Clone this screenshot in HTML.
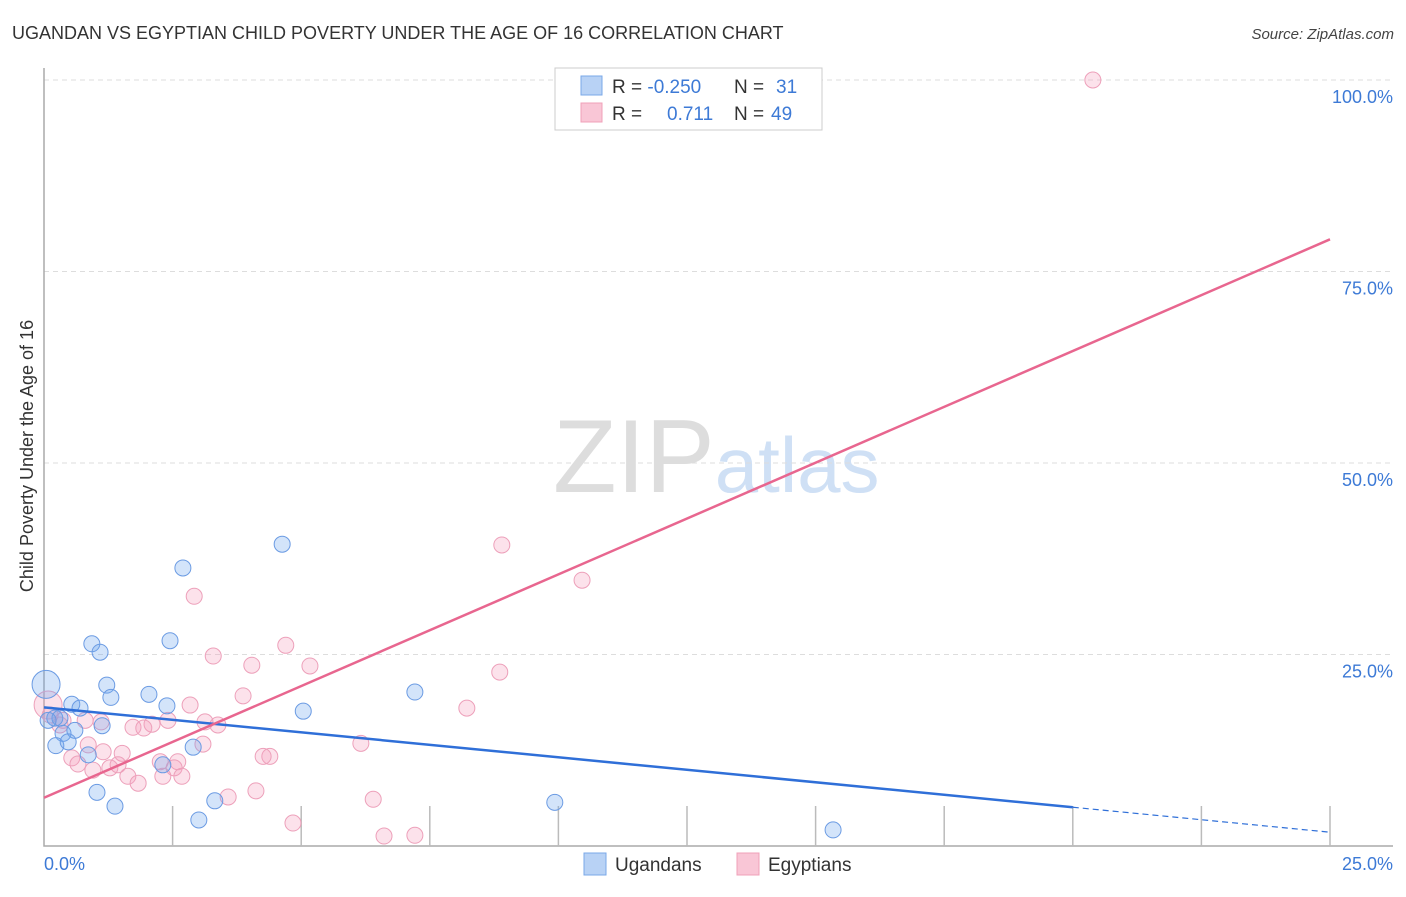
<!DOCTYPE html>
<html><head><meta charset="utf-8"><style>
body{margin:0;background:#fff;font-family:"Liberation Sans",sans-serif}
svg text{font-family:"Liberation Sans",sans-serif}
</style></head><body>
<svg id="chart" width="1406" height="892" xmlns="http://www.w3.org/2000/svg">
<text x="12" y="39" font-size="18" fill="#333">UGANDAN VS EGYPTIAN CHILD POVERTY UNDER THE AGE OF 16 CORRELATION CHART</text>
<text x="1394" y="39" font-size="15" fill="#444" text-anchor="end" font-style="italic">Source: ZipAtlas.com</text>
<text x="553" y="492" font-size="104" fill="#ddd" font-family="Liberation Serif">ZIP<tspan fill="#cfe0f5" font-family="Liberation Sans" font-size="78">atlas</tspan></text>
<text transform="translate(33,456) rotate(-90)" font-size="18" fill="#333" text-anchor="middle">Child Poverty Under the Age of 16</text>
<g id="grid"></g><g id="marks"></g><g id="lines"></g>
<g>
<rect x="555" y="68" width="267" height="62" fill="#fff" stroke="#ccc"/>
<rect x="581" y="76" width="21" height="19" fill="#b8d2f5" stroke="#7aa8e8"/>
<rect x="581" y="103" width="21" height="19" fill="#f9c6d6" stroke="#f0a0b8"/>
<text x="612" y="93" font-size="19" fill="#333">R = <tspan fill="#3d7ad6">-0.250</tspan><tspan x="734">N = </tspan><tspan x="776" fill="#3d7ad6">31</tspan></text>
<text x="612" y="120" font-size="19" fill="#333">R = <tspan x="667" fill="#3d7ad6">0.711</tspan><tspan x="734">N = </tspan><tspan x="771" fill="#3d7ad6">49</tspan></text>
</g>
<g><rect x="584" y="853" width="22" height="22" fill="#b8d2f5" stroke="#7aa8e8"/><text x="615" y="871" font-size="19" fill="#333">Ugandans</text></g>
<g><rect x="737" y="853" width="22" height="22" fill="#f9c6d6" stroke="#f0a0b8"/><text x="768" y="871" font-size="19" fill="#333">Egyptians</text></g>
</svg>
<script>
const yTicks=[25,50,75,100];
const yTickLabels=["25.0%","50.0%","75.0%","100.0%"];
const xTicks=[2.5,5,7.5,10,12.5,15,17.5,20,22.5,25];
const blueX=[0.04,0.21,0.31,0.54,0.70,0.37,0.60,0.23,0.47,0.93,1.09,1.22,1.30,1.13,0.86,1.03,1.38,2.04,2.45,2.70,2.39,2.31,2.90,3.01,3.32,4.63,5.04,7.21,9.93,15.34,0.08];
const blueY=[21.1,16.7,16.7,18.5,18.0,14.7,15.1,13.1,13.6,26.4,25.3,21.0,19.4,15.7,11.9,7.0,5.2,19.8,26.8,36.3,18.3,10.6,12.9,3.4,5.9,39.4,17.6,20.1,5.7,2.1,16.4];
const pinkX=[20.39,8.90,10.46,2.92,4.70,3.29,4.04,5.17,8.86,3.87,2.84,8.22,2.41,3.13,3.38,1.73,2.10,1.94,1.11,0.37,0.08,0.86,6.16,3.09,1.52,1.15,4.39,4.26,0.54,0.66,0.95,1.28,2.60,2.26,2.53,2.31,2.68,1.63,1.83,3.58,4.12,6.40,4.84,6.61,7.21,0.12,0.31,0.80,1.44];
const pinkY=[100,39.3,34.7,32.6,26.2,24.8,23.6,23.5,22.7,19.6,18.4,18.0,16.4,16.2,15.8,15.5,15.9,15.4,16.2,16.4,18.4,13.2,13.4,13.3,12.1,12.3,11.7,11.7,11.5,10.7,9.9,10.2,11.0,11.0,10.2,9.1,9.1,9.1,8.2,6.4,7.2,6.1,3.0,1.3,1.4,17.1,15.8,16.4,10.6];
const blueTrend=[18.1,1.8], blueSolidEnd=20;
const pinkTrend=[6.3,79.2];
const NS="http://www.w3.org/2000/svg";
const sx=v=>44+v/25*1286, sy=v=>846-v/100*766;
function mk(t,a,p){const e=document.createElementNS(NS,t);for(const k in a)e.setAttribute(k,a[k]);p.appendChild(e);return e;}
const grid=document.getElementById('grid'),marks=document.getElementById('marks'),lines=document.getElementById('lines');
yTicks.forEach((t,i)=>{
 const l=mk('line',{x1:44,x2:1393,y1:sy(t),y2:sy(t),stroke:'#ddd','stroke-dasharray':'5,4'},grid);
 
 
 const tx=mk('text',{x:1393,y:sy(t)+23,'font-size':18,fill:'#3d7ad6','text-anchor':'end'},grid);tx.textContent=yTickLabels[i];
 
 
});
const ax=mk('path',{d:'M44,68V846H1393',fill:'none',stroke:'#aaa','stroke-width':1.5},grid);


xTicks.forEach(t=>{const l=mk('line',{x1:sx(t),x2:sx(t),y1:846,y2:806,stroke:'#bbb','stroke-width':1.5},grid);
 
 });
let t0=mk('text',{x:44,y:870,'font-size':18,fill:'#3d7ad6'},grid);t0.textContent='0.0%';


let t1=mk('text',{x:1393,y:870,'font-size':18,fill:'#3d7ad6','text-anchor':'end'},grid);t1.textContent='25.0%';


function pts(X,Y,fill,stroke,name,bigIdx){X.forEach((x,i)=>{const c=mk('circle',{cx:sx(x),cy:sy(Y[i]),r:i===bigIdx?14:8,fill:fill,stroke:stroke,'stroke-width':1},marks);
 
 });}
pts(pinkX,pinkY,'rgba(245,160,190,0.3)','#eda0ba','egyptian-point',20);
pts(blueX,blueY,'rgba(110,165,240,0.3)','#6b9be3','ugandan-point',0);
const bm=blueTrend[0]+(blueTrend[1]-blueTrend[0])*blueSolidEnd/25;
let b1=mk('line',{x1:sx(0),y1:sy(blueTrend[0]),x2:sx(blueSolidEnd),y2:sy(bm),stroke:'#2f6fd8','stroke-width':2.5},lines);


let b2=mk('line',{x1:sx(blueSolidEnd),y1:sy(bm),x2:sx(25),y2:sy(blueTrend[1]),stroke:'#2f6fd8','stroke-width':1.2,'stroke-dasharray':'6,4'},lines);


let p1=mk('line',{x1:sx(0),y1:sy(pinkTrend[0]),x2:sx(25),y2:sy(pinkTrend[1]),stroke:'#e8668f','stroke-width':2.5},lines);


</script>
</body></html>
